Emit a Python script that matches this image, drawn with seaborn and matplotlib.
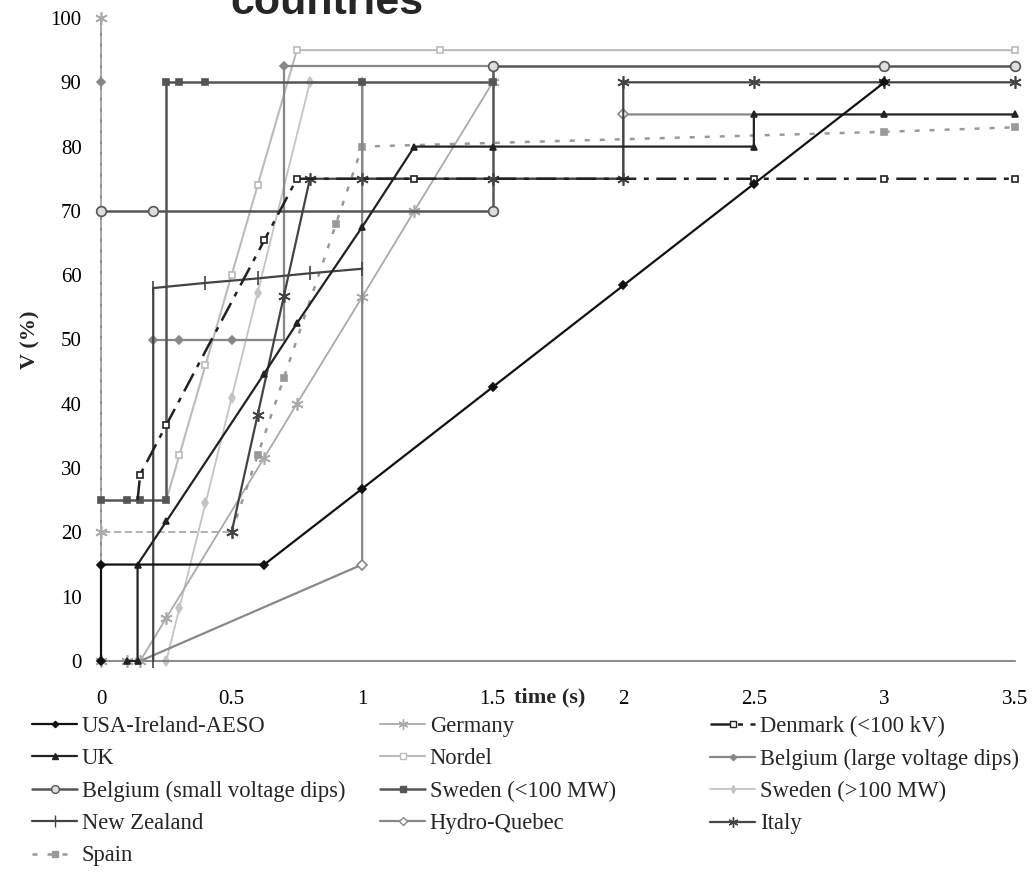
import matplotlib
matplotlib.use("Agg")
import matplotlib.pyplot as plt
from matplotlib.lines import Line2D
import seaborn as sns

# values: time (s) and retained voltage (%)
usa_t = [0, 0, 0.625, 1, 1.5, 2, 2.5, 3]
usa_v = [0, 15, 15, 26.8, 42.6, 58.4, 74.2, 90]

uk_t = [0.1, 0.14, 0.14, 0.25, 0.625, 0.75, 1, 1.2, 1.5, 2.5, 2.5, 3, 3.5]
uk_v = [0, 0, 15, 21.7, 44.7, 52.5, 67.5, 80, 80, 80, 85, 85, 85]

bel_small_t = [0, 0.2, 1.5, 1.5, 3, 3.5]
bel_small_v = [70, 70, 70, 92.5, 92.5, 92.5]

nz_t = [0.2, 0.2, 0.4, 0.6, 0.8, 1]
nz_v = [0, 58, 58.8, 59.5, 60.3, 61]

spain_t = [0.5, 0.6, 0.7, 0.9, 1, 3, 3.5]
spain_v = [20, 32, 44, 68, 80, 82.3, 83]

germany_axis_t = [0, 0, 0, 0.5]
germany_axis_v = [0, 100, 20, 20]
germany_t = [0.1, 0.15, 0.25, 0.625, 0.75, 1, 1.2, 1.5]
germany_v = [0, 0, 6.7, 31.6, 40, 56.6, 70, 90]

nordel_t = [0.25, 0.3, 0.4, 0.5, 0.6, 0.75, 1.3, 3.5]
nordel_v = [25, 32, 46, 60, 74, 95, 95, 95]

swe_small_t = [0, 0.1, 0.15, 0.25, 0.25, 0.3, 0.4, 1, 1.5]
swe_small_v = [25, 25, 25, 25, 90, 90, 90, 90, 90]

hq_t = [0.15, 1, 1, 1, 2, 2, 2.5]
hq_v = [0, 15, 90, 75, 75, 85, 85]

denmark_t = [0.14, 0.15, 0.25, 0.625, 0.75, 1.2, 2.5, 3, 3.5]
denmark_v = [25, 29, 36.7, 65.4, 75, 75, 75, 75, 75]

bel_large_start_t = [0]
bel_large_start_v = [90]
bel_large_t = [0.2, 0.3, 0.5, 0.7, 0.7, 1.5]
bel_large_v = [50, 50, 50, 50, 92.5, 92.5]

swe_large_t = [0.25, 0.3, 0.4, 0.5, 0.6, 0.8, 1]
swe_large_v = [0, 8.2, 24.5, 40.9, 57.3, 90, 90]

italy_t = [0.5, 0.6, 0.7, 0.8, 1, 1.5, 2, 2, 2.5, 3, 3.5]
italy_v = [20, 38.3, 56.7, 75, 75, 75, 75, 90, 90, 90, 90]

x_ticks = [0, 0.5, 1, 1.5, 2, 2.5, 3, 3.5]
x_labels = ["0", "0.5", "1", "1.5", "2", "2.5", "3", "3.5"]
y_ticks = list(range(0, 101, 10))

ASTER = (6, 2, 0)
styles = {
    "USA-Ireland-AESO": dict(color="#111111", marker="D", ms=4, mfc="#111111", ls="-", lw=1.6, z=9),
    "UK": dict(color="#222222", marker="^", ms=5, mfc="#222222", ls="-", lw=1.6, z=8),
    "Belgium (small voltage dips)": dict(color="#555555", marker="o", ms=7, mfc="#dddddd", ls="-", lw=1.8, z=7),
    "New Zealand": dict(color="#444444", marker="|", ms=10, mfc="#444444", ls="-", lw=1.6, z=6),
    "Spain": dict(color="#999999", marker="s", ms=5, mfc="#999999", ls=(0, (2, 4)), lw=1.8, z=4),
    "Germany": dict(color="#aaaaaa", marker=ASTER, ms=9, mfc="none", ls="-", lw=1.3, z=3),
    "Nordel": dict(color="#bbbbbb", marker="s", ms=5, mfc="white", ls="-", lw=1.5, z=2),
    "Sweden (<100 MW)": dict(color="#555555", marker="s", ms=5, mfc="#555555", ls="-", lw=1.8, z=6),
    "Hydro-Quebec": dict(color="#888888", marker="D", ms=5, mfc="white", ls="-", lw=1.6, z=4),
    "Denmark (<100 kV)": dict(color="#222222", marker="s", ms=5, mfc="white", ls=(0, (8, 3, 2, 3)), lw=1.8, z=8),
    "Belgium (large voltage dips)": dict(color="#888888", marker="D", ms=4, mfc="#888888", ls="-", lw=1.6, z=4),
    "Sweden (>100 MW)": dict(color="#c4c4c4", marker="d", ms=5, mfc="#c4c4c4", ls="-", lw=1.3, z=2),
    "Italy": dict(color="#444444", marker=ASTER, ms=9, mfc="none", ls="-", lw=1.6, z=7),
}

sns.set_theme(style="white")
plt.rcParams["font.family"] = ["Liberation Serif", "DejaVu Serif"]

fig = plt.figure(figsize=(10.35, 8.75), dpi=100)
ax = fig.add_axes([101 / 1035, 1 - 661 / 875, 914 / 1035, 643 / 875])


def draw(t, v, name, **over):
    st = {**styles[name], **over}
    sns.lineplot(x=t, y=v, ax=ax, sort=False, estimator=None, legend=False,
                 color=st["color"], linestyle=st["ls"], linewidth=st["lw"],
                 marker=st["marker"], markersize=st["ms"],
                 markerfacecolor=st["mfc"], markeredgecolor=st["color"],
                 markeredgewidth=1.2, markevery=st.get("every"),
                 clip_on=False, zorder=st["z"])


draw(nordel_t, nordel_v, "Nordel", every=[1, 2, 3, 4, 5, 6, 7])
draw(swe_large_t, swe_large_v, "Sweden (>100 MW)")
draw(germany_axis_t, germany_axis_v, "Germany", ls=(0, (4, 2)))
draw(germany_t, germany_v, "Germany")
draw(spain_t, spain_v, "Spain", every=[1, 2, 3, 4, 5, 6])
draw(bel_large_start_t, bel_large_start_v, "Belgium (large voltage dips)")
draw(bel_large_t, bel_large_v, "Belgium (large voltage dips)", every=[0, 1, 2, 4])
draw(hq_t, hq_v, "Hydro-Quebec", every=[1, 5])
draw(swe_small_t, swe_small_v, "Sweden (<100 MW)")
draw(nz_t, nz_v, "New Zealand")
draw(bel_small_t, bel_small_v, "Belgium (small voltage dips)")
draw(italy_t, italy_v, "Italy")
draw(denmark_t, denmark_v, "Denmark (<100 kV)", every=[1, 2, 3, 4, 5, 6, 7, 8])
draw(uk_t, uk_v, "UK")
draw(usa_t, usa_v, "USA-Ireland-AESO")

ax.set_xlim(0, 3.5)
ax.set_ylim(0, 100)
ax.set_xticks(x_ticks)
ax.set_xticklabels(x_labels)
ax.set_yticks(y_ticks)
ax.set_xlabel("")
ax.set_ylabel("")
sns.despine(ax=ax)
for side in ["left", "bottom"]:
    ax.spines[side].set_color("#777777")
    ax.spines[side].set_linewidth(1.2)
ax.tick_params(axis="both", direction="out", length=6, width=1.2, color="#777777",
               labelsize=15, labelcolor="black")
ax.tick_params(axis="x", pad=15)
ax.tick_params(axis="y", pad=8)

fig.text(550 / 1035, 1 - 697 / 875, "time (s)", ha="center", va="center",
         fontsize=16, fontweight="bold")
fig.text(30 / 1035, 1 - 340 / 875, "V (%)", ha="center", va="center",
         rotation=90, fontsize=16, fontweight="bold")
fig.text(230 / 1035, 1 - 14 / 875, "countries", ha="left", va="baseline",
         fontsize=31, fontweight="bold", family=["Liberation Sans", "DejaVu Sans"])


def proxy(name):
    st = styles[name]
    return Line2D([], [], color=st["color"], linestyle=st["ls"], linewidth=st["lw"],
                  marker=st["marker"], markersize=st["ms"] * 0.8,
                  markerfacecolor=st["mfc"], markeredgecolor=st["color"],
                  markeredgewidth=1.0)


columns = [
    (32, ["USA-Ireland-AESO", "UK", "Belgium (small voltage dips)", "New Zealand", "Spain"]),
    (380, ["Germany", "Nordel", "Sweden (<100 MW)", "Hydro-Quebec"]),
    (710, ["Denmark (<100 kV)", "Belgium (large voltage dips)", "Sweden (>100 MW)", "Italy"]),
]
for x0, names in columns:
    fig.legend(handles=[proxy(n) for n in names], labels=names,
               loc="upper left", bbox_to_anchor=(x0 / 1035, 1 - 716 / 875),
               frameon=False, handlelength=2.0, handletextpad=0.2,
               labelspacing=0.5, borderpad=0, borderaxespad=0, fontsize=16.3)

fig.savefig("out.png", dpi=100)
